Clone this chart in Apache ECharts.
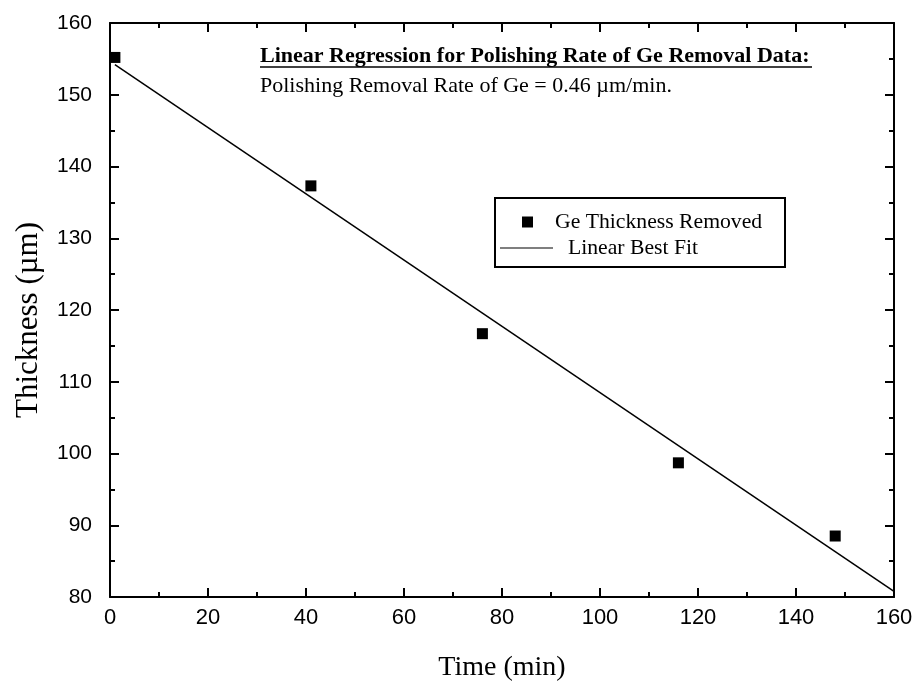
<!DOCTYPE html>
<html>
<head>
<meta charset="utf-8">
<title>Ge polishing rate</title>
<script src="https://cdn.jsdelivr.net/npm/echarts/dist/echarts.min.js"></script>
<style>
    html, body { margin: 0; padding: 0; background: #fff; }
    #chart { width: 914px; height: 683px; }
</style>
</head>
<body>
<div id="chart"></div>
<script>
    const timeMin = [1, 41, 76, 116, 148]
    const thickness = [155.2, 137.3, 116.7, 98.7, 88.5]
    // best fit line ends
    const fitTime = [1, 160]
    const fitThickness = [154.2, 80.8]
    // axis ranges / ticks
    const xRange = [0, 160, 20]
    const yRange = [80, 160, 10]

    const serif = '"Liberation Serif", "Times New Roman", serif'
    const sans = '"Liberation Sans", Arial, sans-serif'

    const zip = (a, b) => a.map((v, i) => [v, b[i]])

    // shared look of the box axes (ticks inside, minor ticks between)
    function boxAxis (range, pos, extra) {
        return Object.assign({
            type: 'value',
            position: pos,
            min: range[0],
            max: range[1],
            interval: range[2],
            splitLine: { show: false },
            axisLine: { show: true, onZero: false, lineStyle: { color: '#000', width: 2 } },
            axisTick: { show: true, inside: true, length: 9, lineStyle: { color: '#000', width: 2 } },
            minorTick: { show: true, splitNumber: 2, length: 5, lineStyle: { color: '#000', width: 2 } },
            axisLabel: { show: false }
        }, extra)
    }

    const chart = echarts.init(document.getElementById('chart'))
    const option = {
        animation: false,
        backgroundColor: '#fff',
        grid: { left: 110, right: 20, top: 23, bottom: 86, outerBoundsMode: 'none' },
        xAxis: [
            boxAxis(xRange, 'bottom', {
                name: 'Time (min)',
                nameLocation: 'middle',
                nameGap: 57,
                nameTextStyle: { fontFamily: serif, fontSize: 28, color: '#000' },
                axisLabel: { show: true, color: '#000', fontFamily: sans, fontSize: 22, margin: 10 }
            }),
            boxAxis(xRange, 'top', {})
        ],
        yAxis: [
            boxAxis(yRange, 'left', {
                name: 'Thickness (µm)',
                nameLocation: 'middle',
                nameGap: 66,
                nameTextStyle: { fontFamily: serif, fontSize: 31, color: '#000', padding: [0, 20, 0, 0] },
                axisLabel: { show: true, color: '#000', fontFamily: sans, fontSize: 21, margin: 18 }
            }),
            boxAxis(yRange, 'right', {})
        ],
        legend: [
            {
                data: [{ name: 'Ge Thickness Removed', icon: 'rect' }],
                left: 522, top: 211, padding: 0,
                itemWidth: 11, itemHeight: 11,
                textStyle: { fontFamily: serif, fontSize: 21.7, color: '#000', padding: [0, 0, 0, 17] },
                selectedMode: false
            },
            {
                data: [{ name: 'Linear Best Fit', icon: 'path://M0 0H60V1H0Z' }],
                left: 500, top: 237, padding: 0,
                itemWidth: 53, itemHeight: 2,
                textStyle: { fontFamily: serif, fontSize: 21.7, color: '#000', padding: [0, 0, 0, 10] },
                selectedMode: false
            }
        ],
        graphic: [
            {
                type: 'rect',
                shape: { x: 495, y: 198, width: 290, height: 69 },
                style: { fill: 'none', stroke: '#000', lineWidth: 2 }
            },
            {
                type: 'text', x: 260, y: 56,
                style: { text: 'Linear Regression for Polishing Rate of Ge Removal Data:', font: 'bold 22px ' + serif, fill: '#000', verticalAlign: 'middle' }
            },
            {
                type: 'line',
                shape: { x1: 260, y1: 67, x2: 812, y2: 67 },
                style: { stroke: '#000', lineWidth: 1.5 }
            },
            {
                type: 'text', x: 260, y: 86,
                style: { text: 'Polishing Removal Rate of Ge = 0.46 µm/min.', font: '22px ' + serif, fill: '#000', verticalAlign: 'middle' }
            }
        ],
        series: [
            {
                name: 'Linear Best Fit',
                type: 'line',
                data: zip(fitTime, fitThickness),
                symbol: 'none',
                lineStyle: { color: '#000', width: 1.5 },
                itemStyle: { color: '#000' },
                z: 2
            },
            {
                name: 'Ge Thickness Removed',
                type: 'scatter',
                data: zip(timeMin, thickness),
                symbol: 'rect',
                symbolSize: 11,
                itemStyle: { color: '#000', opacity: 1 },
                clip: false,
                z: 3
            }
        ]
    }
    chart.setOption(option)
</script>
</body>
</html>
